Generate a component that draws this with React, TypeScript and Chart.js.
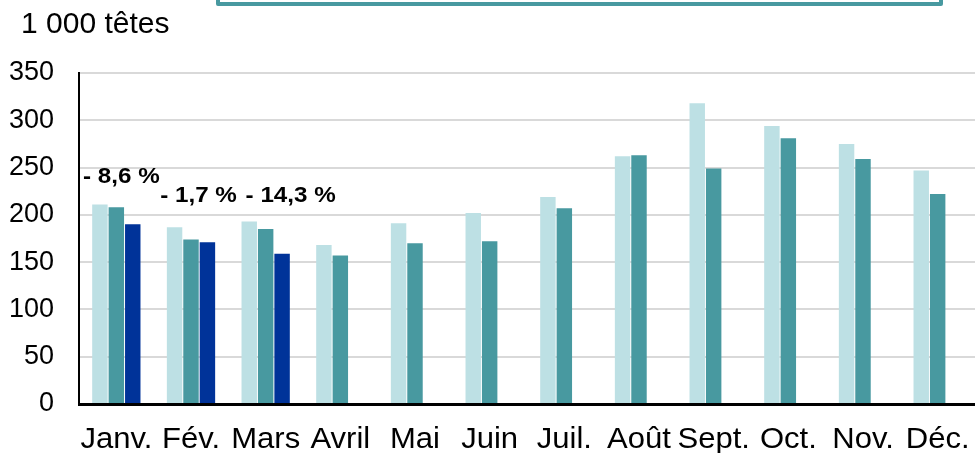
import React, { useEffect, useRef } from "react";
import { Chart, registerables } from "chart.js";

Chart.register(...registerables);

const categories = ["Janv.", "Fév.", "Mars", "Avril", "Mai", "Juin", "Juil.", "Août", "Sept.", "Oct.", "Nov.", "Déc."];
const seriesA = [211, 187, 193, 168, 191, 202, 219, 262, 318, 294, 275, 247];
const seriesB = [208, 174, 185, 157, 170, 172, 207, 263, 249, 281, 259, 222];
const seriesC: (number | null)[] = [190, 171, 159, null, null, null, null, null, null, null, null, null];
const seriesNames = ["2023", "2024", "2025"];
const yTicks = [0, 50, 100, 150, 200, 250, 300, 350];
const annoLabels = ["- 8,6 %", "- 1,7 %", "- 14,3 %"];
const annoIndex = [0, 1, 2];
const annoLevel = [234, 214, 214];

const FONT = "'Liberation Sans', Arial, sans-serif";

export default function App() {
  const ref = useRef<HTMLCanvasElement | null>(null);

  useEffect(() => {
    document.body.style.margin = "0";
    const canvas = ref.current;
    if (!canvas) return;

    const textPlugin = {
      id: "texts",
      afterDatasetsDraw(chart: any) {
        const { ctx, scales, chartArea } = chart;
        const dx = [5, 7.5, 25];
        ctx.save();
        ctx.fillStyle = "#000";
        ctx.textBaseline = "alphabetic";
        // annotations
        ctx.font = `bold 22px ${FONT}`;
        ctx.textAlign = "center";
        annoLabels.forEach((t, i) => {
          const x = scales.x.getPixelForValue(annoIndex[i]) + dx[i];
          const y = scales.y.getPixelForValue(annoLevel[i]);
          ctx.save();
          ctx.translate(x, y);
          ctx.scale(1.1, 1);
          ctx.fillText(t, 0, 0);
          ctx.restore();
        });
        // category labels
        ctx.font = `29px ${FONT}`;
        categories.forEach((c, i) => {
          const x = scales.x.getPixelForValue(i);
          ctx.save();
          ctx.translate(x, chartArea.bottom + 44);
          ctx.scale(1.07, 1);
          ctx.fillText(c, 0, 0);
          ctx.restore();
        });
        // unit title
        ctx.font = `30px ${FONT}`;
        ctx.textAlign = "left";
        ctx.fillText("1 000 têtes", 21, 33);
        ctx.restore();
      },
    };

    const chart = new Chart(canvas, {
      type: "bar",
      data: {
        labels: categories,
        datasets: [
          { label: seriesNames[0], data: seriesA, backgroundColor: "#bde0e4" },
          { label: seriesNames[1], data: seriesB, backgroundColor: "#4899a0" },
          { label: seriesNames[2], data: seriesC, backgroundColor: "#003399" },
        ],
      },
      options: {
        responsive: false,
        animation: false,
        layout: { padding: { top: 73, left: 0, right: 0, bottom: 0 } },
        datasets: { bar: { categoryPercentage: 0.66, barPercentage: 0.94 } },
        plugins: { legend: { display: false }, tooltip: { enabled: false }, title: { display: false } },
        scales: {
          x: {
            grid: { display: false, drawTicks: false },
            border: { display: true, color: "#000", width: 3 },
            ticks: { display: false },
            afterFit(scale: any) { scale.height = 49; },
          },
          y: {
            min: 0,
            max: 350,
            afterBuildTicks(scale: any) { scale.ticks = yTicks.map((v) => ({ value: v })); },
            grid: { color: "#d9d9d9", lineWidth: 2, drawTicks: false },
            border: { display: true, color: "#000", width: 2 },
            ticks: { color: "#000", font: { family: FONT, size: 27 }, padding: 25 },
            afterFit(scale: any) { scale.width = 79; },
          },
        },
      },
      plugins: [textPlugin],
    });
    return () => chart.destroy();
  }, []);

  return (
    <div style={{ position: "relative", width: 975, height: 453, overflow: "hidden", background: "#fff" }}>
      <canvas ref={ref} width={975} height={453} style={{ display: "block" }} />
      <div
        style={{
          position: "absolute",
          left: 216,
          top: -30,
          width: 719,
          height: 28,
          border: "4px solid #4899a0",
          borderRadius: 2,
          boxSizing: "content-box",
        }}
      />
    </div>
  );
}
